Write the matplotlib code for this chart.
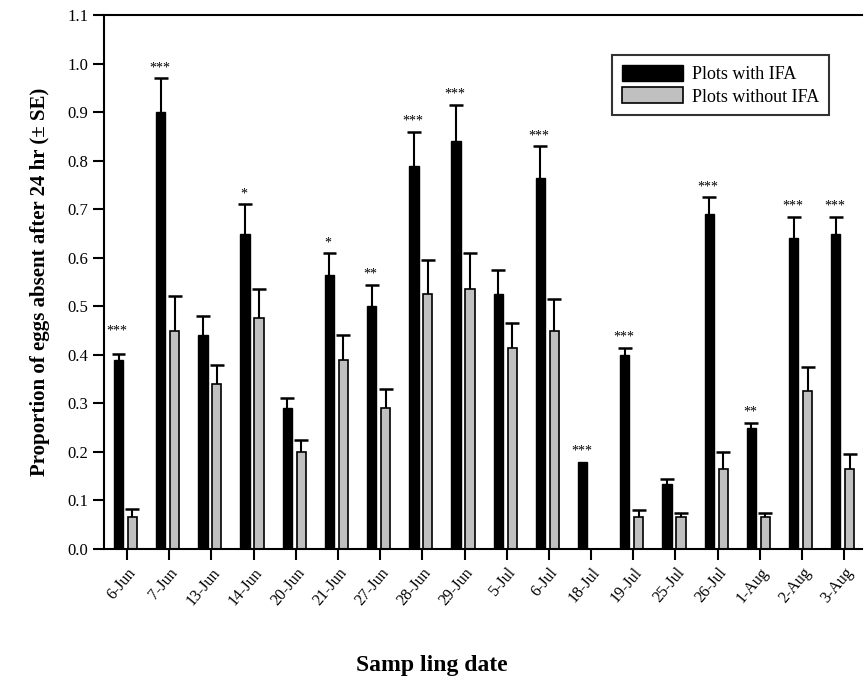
import numpy as np
import matplotlib
matplotlib.use('Agg')
import matplotlib.pyplot as plt

plt.rcParams['font.family'] = ['Liberation Serif', 'DejaVu Serif']

# дати відбору проб
dates = ['6-Jun', '7-Jun', '13-Jun', '14-Jun', '20-Jun', '21-Jun', '27-Jun', '28-Jun',
         '29-Jun', '5-Jul', '6-Jul', '18-Jul', '19-Jul', '25-Jul', '26-Jul', '1-Aug',
         '2-Aug', '3-Aug']

# ділянки з IFA
with_ifa = [0.39, 0.90, 0.44, 0.65, 0.29, 0.565, 0.50, 0.79, 0.84, 0.525, 0.765,
            0.18, 0.40, 0.135, 0.69, 0.25, 0.64, 0.65]
with_se = [0.012, 0.07, 0.04, 0.06, 0.022, 0.045, 0.045, 0.07, 0.075, 0.05, 0.065,
           0.0, 0.015, 0.01, 0.035, 0.01, 0.045, 0.035]

# ділянки без IFA
without_ifa = [0.065, 0.45, 0.34, 0.475, 0.20, 0.39, 0.29, 0.525, 0.535, 0.415, 0.45,
               0.0, 0.065, 0.065, 0.165, 0.065, 0.325, 0.165]
without_se = [0.018, 0.072, 0.04, 0.06, 0.025, 0.05, 0.04, 0.07, 0.075, 0.05, 0.065,
              0.0, 0.015, 0.01, 0.035, 0.01, 0.05, 0.03]

# позначки значущості
stars = ['***', '***', '', '*', '', '*', '**', '***', '***', '', '***', '***', '***',
         '', '***', '**', '***', '***']

x = np.arange(len(dates))
w = 0.22
cap = 0.33

fig, ax = plt.subplots(figsize=(8.65, 6.88), dpi=100)
fig.subplots_adjust(left=0.1202, right=0.9965, top=0.978, bottom=0.202)

ax.bar(x - 0.2, with_ifa, w, color='black', edgecolor='black', linewidth=1,
       label='Plots with IFA', zorder=2)
ax.bar(x + 0.13, without_ifa, w, color='#c0c0c0', edgecolor='black', linewidth=1.2,
       label='Plots without IFA', zorder=2)

# тільки верхні похибки (± SE)
for xs, vals, se in [(x - 0.2, with_ifa, with_se), (x + 0.13, without_ifa, without_se)]:
    for xi, v, e in zip(xs, vals, se):
        if e <= 0:
            continue
        ax.vlines(xi, v, v + e, color='black', linewidth=1.5, zorder=1)
        ax.hlines(v + e, xi - cap / 2, xi + cap / 2, color='black', linewidth=1.8, zorder=1)

for i, s in enumerate(stars):
    if s == '':
        continue
    y = with_ifa[i] + with_se[i] + 0.008
    if i == 0:
        y = 0.435
    ax.text(x[i] - 0.23, y, s, ha='center', va='bottom', fontsize=10)

ax.set_xlim(-0.545, 17.42)
ax.set_ylim(0, 1.1)
ax.set_yticks(np.arange(0, 1.11, 0.1))
ax.set_yticklabels([f'{v:.1f}' for v in np.arange(0, 1.11, 0.1)], fontsize=12)
ax.set_xticks(x)
ax.set_xticklabels(dates, rotation=50, ha='right', rotation_mode='anchor', fontsize=11.5)
ax.tick_params(direction='out', length=8, width=1.5)

ax.spines['right'].set_visible(False)
for sp in ['left', 'bottom', 'top']:
    ax.spines[sp].set_linewidth(1.5)

ax.set_ylabel('Proportion of eggs absent after 24 hr (± SE)', fontsize=15,
              fontweight='bold', labelpad=12)
ax.set_xlabel('Samp ling date', fontsize=17, fontweight='bold')
ax.xaxis.set_label_coords(0.433, -0.198)

leg = ax.legend(loc='upper right', bbox_to_anchor=(0.969, 0.943), fontsize=13,
                frameon=True, fancybox=False, edgecolor='black', handlelength=3.4,
                handleheight=1.0, borderpad=0.55, labelspacing=0.25, handletextpad=0.5)
leg.get_frame().set_linewidth(1.5)

plt.savefig('out.png')
